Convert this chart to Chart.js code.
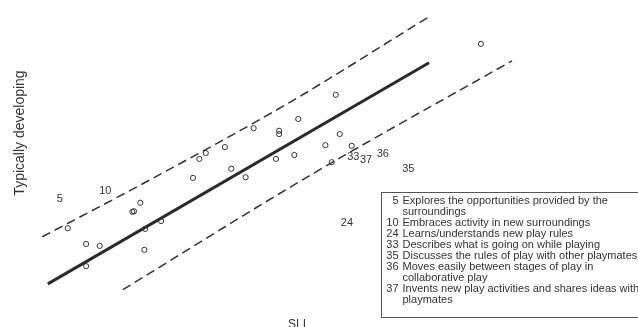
<!DOCTYPE html>
<html>
<head>
<meta charset="utf-8">
<script src="https://cdn.jsdelivr.net/npm/chart.js@4.4.1/dist/chart.umd.min.js"></script>
<style>
  html, body { margin: 0; padding: 0; background: #ffffff; }
  #wrap { position: relative; width: 638px; height: 327px; }
</style>
</head>
<body>
<div id="wrap"><canvas id="c"></canvas></div>
<script>
// ---- data (item measures) ----
const itemX = [-3.15, -2.92, -2.75, -2.92, -2.34, -2.32, -2.24, -2.18, -2.19, -1.98, -1.58, -1.50, -1.42, -1.18, -1.10, -0.92, -0.82, -0.50, -0.50, -0.26, -0.54, -0.31, 0.21, 0.26, 0.08, 0.41, 0.16, 2.03];
const itemY = [-0.99, -1.23, -1.26, -1.57, -0.74, -0.73, -0.60, -1.00, -1.32, -0.88, -0.22, 0.07, 0.16, 0.25, -0.08, -0.21, 0.54, 0.50, 0.45, 0.68, 0.07, 0.13, 1.05, 0.45, 0.28, 0.27, 0.02, 1.83];

const labelIds = ['5', '10', '24', '33', '37', '36', '35'];
const labelX = [-3.25, -2.68, 0.35, 0.43, 0.59, 0.80, 1.12];
const labelY = [-0.54, -0.42, -0.91, 0.10, 0.05, 0.15, -0.08];

const fitX = [-3.40, 1.38];
const fitY = [-1.84, 1.54];

const upperX = [-3.47, -2.12, -0.36, 1.40];
const upperY = [-1.12, -0.25, 0.94, 2.26];

const lowerX = [-2.46, -0.11, 2.42];
const lowerY = [-1.93, -0.18, 1.57];

const legendNums = ['5', '', '10', '24', '33', '35', '36', '', '37', ''];
const legendTexts = [
  'Explores the opportunities provided by the',
  'surroundings',
  'Embraces activity in new surroundings',
  'Learns/understands new play rules',
  'Describes what is going on while playing',
  'Discusses the rules of play with other playmates',
  'Moves easily between stages of play in',
  'collaborative play',
  'Invents new play activities and shares ideas with',
  'playmates'
];

const xTitle = 'SLI';
const yTitle = 'Typically developing';

const toPts = (xs, ys) => xs.map((x, i) => ({ x: x, y: ys[i] }));

const INK = '#333333';
const FONT = '"Liberation Sans", Arial, Helvetica, sans-serif';

const textPlugin = {
  id: 'textPlugin',
  afterDatasetsDraw(chart) {
    const ctx = chart.ctx;
    const xs = chart.scales.x, ys = chart.scales.y;
    ctx.save();
    // item number labels
    ctx.fillStyle = INK;
    ctx.font = '11px ' + FONT;
    ctx.textAlign = 'center';
    ctx.textBaseline = 'middle';
    labelIds.forEach((t, i) => {
      ctx.fillText(t, xs.getPixelForValue(labelX[i]), ys.getPixelForValue(labelY[i]));
    });

    // axis titles
    ctx.font = '12px ' + FONT;
    ctx.textAlign = 'center';
    ctx.textBaseline = 'top';
    ctx.fillText(xTitle, 297, 319);

    ctx.save();
    ctx.translate(20, 133);
    ctx.rotate(-Math.PI / 2);
    ctx.font = '14px ' + FONT;
    ctx.textBaseline = 'middle';
    ctx.fillText(yTitle, 0, 0);
    ctx.restore();

    // legend box
    ctx.strokeStyle = '#555555';
    ctx.lineWidth = 1;
    ctx.strokeRect(381.5, 192.5, 270, 125);
    ctx.fillStyle = INK;
    ctx.font = '11px ' + FONT;
    ctx.textBaseline = 'middle';
    legendTexts.forEach((t, i) => {
      const yy = 201 + i * 11.03;
      if (legendNums[i]) {
        ctx.textAlign = 'right';
        ctx.fillText(legendNums[i], 398.5, yy);
      }
      ctx.textAlign = 'left';
      ctx.fillText(t, 402.5, yy);
    });
    ctx.restore();
  }
};

new Chart(document.getElementById('c'), {
  type: 'scatter',
  data: {
    datasets: [
      {
        label: 'Items',
        data: toPts(itemX, itemY),
        showLine: false,
        pointStyle: 'circle',
        pointRadius: 2.6,
        pointBorderWidth: 1,
        borderColor: INK,
        backgroundColor: 'rgba(0,0,0,0)'
      },
      {
        label: 'Identity',
        data: toPts(fitX, fitY),
        showLine: true,
        borderColor: '#2b2b2b',
        borderWidth: 3,
        pointRadius: 0
      },
      {
        label: 'Upper',
        data: toPts(upperX, upperY),
        showLine: true,
        borderColor: INK,
        borderWidth: 1.5,
        borderDash: [9, 5],
        cubicInterpolationMode: 'monotone',
        pointRadius: 0
      },
      {
        label: 'Lower',
        data: toPts(lowerX, lowerY),
        showLine: true,
        borderColor: INK,
        borderWidth: 1.5,
        borderDash: [9, 5],
        cubicInterpolationMode: 'monotone',
        pointRadius: 0
      }
    ]
  },
  options: {
    responsive: true,
    maintainAspectRatio: false,
    animation: false,
    layout: { padding: 0, autoPadding: false },
    plugins: {
      legend: { display: false },
      tooltip: { enabled: false },
      title: { display: false }
    },
    scales: {
      x: { type: 'linear', display: false, min: -4, max: 4 },
      y: { type: 'linear', display: false, min: -2.5, max: 2.5 }
    }
  },
  plugins: [textPlugin]
});
</script>
</body>
</html>
